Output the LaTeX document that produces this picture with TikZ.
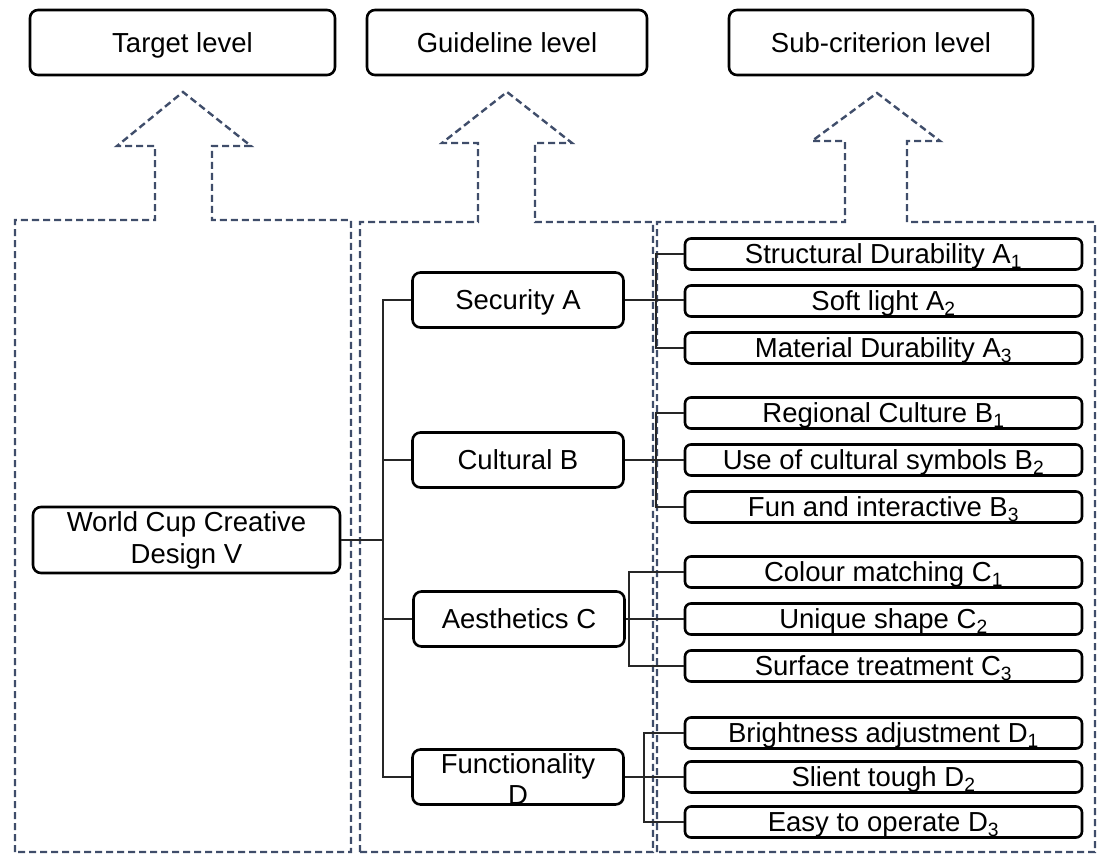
\documentclass[tikz,border=0pt]{standalone}
\usepackage{fontspec}
\setmainfont{Liberation Sans}
\definecolor{dashc}{HTML}{3F4D6A}
\begin{document}
\begin{tikzpicture}[x=1pt,y=-1pt,
  box/.style={draw=black, line width=2.6pt, rounded corners=8pt, fill=white, inner sep=0pt, font=\fontsize{27.5}{32}\selectfont},
  capbox/.style={box, text height=19.7pt, text depth=0pt},
  subbox/.style={capbox, rounded corners=6pt, minimum width=397pt, minimum height=31pt},
  midbox/.style={capbox, minimum width=211pt, minimum height=55pt},
  topbox/.style={capbox, minimum height=65pt},
  panel/.style={draw=dashc, line width=2.4pt, dash pattern=on 7pt off 4pt},
  conn/.style={draw=black!85, line width=1.5pt}]
\useasboundingbox (0,0) rectangle (1101,855);

% dashed panels with arrows
\draw[panel] (15,852) -- (15,220) -- (155,220) -- (155,146) -- (117,146) -- (183,92) -- (251,146) -- (212,146) -- (212,220) -- (351,220) -- (351,852) -- cycle;
\draw[panel] (360,852) -- (360,222) -- (478,222) -- (478,143) -- (442,143) -- (507,92) -- (572,143) -- (535,143) -- (535,222) -- (653,222) -- (653,852) -- cycle;
\draw[panel] (657,852) -- (657,222) -- (845,222) -- (845,141) -- (812,141) -- (877,93) -- (940,141) -- (907,141) -- (907,222) -- (1095,222) -- (1095,852) -- cycle;

% top level boxes
\node[topbox, minimum width=305pt] (tl) at (182.5,42.5) {Target level};
\node[topbox, minimum width=280pt] (gl) at (507,42.5) {Guideline level};
\node[topbox, minimum width=304pt] (sl) at (881,42.5) {Sub-criterion level};

% target
\node[box, minimum width=307pt, minimum height=66pt, align=center] (v) at (186.5,540) {World Cup Creative\\Design V};

% guideline
\node[midbox] (sa) at (518,300) {Security A};
\node[midbox] (cb) at (518,460) {Cultural B};
\node[midbox] (ac) at (519,619) {Aesthetics C};
\node[midbox] (fd) at (518,777) {};
\node[font=\fontsize{27.5}{31}\selectfont, align=center, inner sep=0pt] (fdt) at (518,779) {Functionality\\D};

% sub-criteria
\node[subbox] (a1) at (883.5,254) {Structural Durability A\textsubscript{1}};
\node[subbox] (a2) at (883.5,301) {Soft light A\textsubscript{2}};
\node[subbox] (a3) at (883.5,348) {Material Durability A\textsubscript{3}};
\node[subbox] (b1) at (883.5,413) {Regional Culture B\textsubscript{1}};
\node[subbox] (b2) at (883.5,460) {Use of cultural symbols B\textsubscript{2}};
\node[subbox] (b3) at (883.5,507) {Fun and interactive B\textsubscript{3}};
\node[subbox] (c1) at (883.5,572) {Colour matching C\textsubscript{1}};
\node[subbox] (c2) at (883.5,619) {Unique shape C\textsubscript{2}};
\node[subbox] (c3) at (883.5,666) {Surface treatment C\textsubscript{3}};
\node[subbox] (d1) at (883.5,733) {Brightness adjustment D\textsubscript{1}};
\node[subbox] (d2) at (883.5,777) {Slient tough D\textsubscript{2}};
\node[subbox] (d3) at (883.5,822) {Easy to operate D\textsubscript{3}};

% bus coordinates
\coordinate (busV) at (383,0);
\coordinate (busA) at (656,0);
\coordinate (busC) at (629,0);
\coordinate (busD) at (644,0);

% connectors: target to guideline
\draw[conn] (v.east) -- (v.east -| busV);
\draw[conn] (sa.west) -- (sa.west -| busV) -- (fd.west -| busV) -- (fd.west);
\draw[conn] (cb.west) -- (cb.west -| busV);
\draw[conn] (ac.west) -- (ac.west -| busV);

% guideline to sub-criteria
\draw[conn] (sa.east) -- (sa.east -| a2.west);
\draw[conn] (a1.west) -- (a1.west -| busA) -- (a3.west -| busA) -- (a3.west);
\draw[conn] (cb.east) -- (cb.east -| b2.west);
\draw[conn] (b1.west) -- (b1.west -| busA) -- (b3.west -| busA) -- (b3.west);
\draw[conn] (ac.east) -- (ac.east -| c2.west);
\draw[conn] (c1.west) -- (c1.west -| busC) -- (c3.west -| busC) -- (c3.west);
\draw[conn] (fd.east) -- (fd.east -| d2.west);
\draw[conn] (d1.west) -- (d1.west -| busD) -- (d3.west -| busD) -- (d3.west);
\end{tikzpicture}
\end{document}
